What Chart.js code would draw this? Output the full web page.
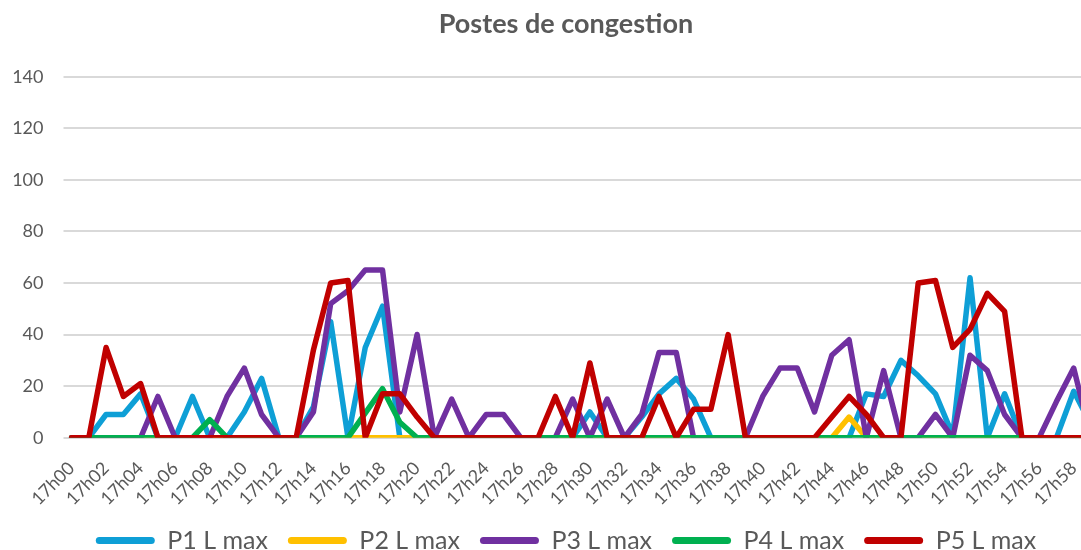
<!DOCTYPE html>
<html>
<head>
<meta charset="utf-8">
<script src="https://cdn.jsdelivr.net/npm/chart.js@4/dist/chart.umd.min.js"></script>
<style>
  html, body { margin: 0; padding: 0; background: #ffffff; }
  #wrap { width: 1081px; height: 550px; overflow: hidden; position: relative; }
  canvas { display: block; }
</style>
</head>
<body>
<div id="wrap"><canvas id="chart" width="1131" height="563"></canvas></div>
<script>
// Categories: one per minute
const minutes = [
  "17h00", "17h01", "17h02", "17h03", "17h04", "17h05", "17h06", "17h07", "17h08", "17h09",
  "17h10", "17h11", "17h12", "17h13", "17h14", "17h15", "17h16", "17h17", "17h18", "17h19",
  "17h20", "17h21", "17h22", "17h23", "17h24", "17h25", "17h26", "17h27", "17h28", "17h29",
  "17h30", "17h31", "17h32", "17h33", "17h34", "17h35", "17h36", "17h37", "17h38", "17h39",
  "17h40", "17h41", "17h42", "17h43", "17h44", "17h45", "17h46", "17h47", "17h48", "17h49",
  "17h50", "17h51", "17h52", "17h53", "17h54", "17h55", "17h56", "17h57", "17h58", "17h59"
];

// Series values
const p1 = [
  0, 0, 9, 9, 17, 0, 0, 16, 0, 0,
  10, 23, 0, 0, 12, 45, 0, 35, 51, 0,
  0, 0, 0, 0, 0, 0, 0, 0, 0, 0,
  10, 0, 0, 8, 17, 23, 15, 0, 0, 0,
  0, 0, 0, 0, 0, 0, 17, 16, 30, 24,
  17, 1, 62, 0, 17, 0, 0, 0, 18, 5
];
const p2 = [
  0, 0, 0, 0, 0, 0, 0, 0, 0, 0,
  0, 0, 0, 0, 0, 0, 0, 0, 0, 0,
  0, 0, 0, 0, 0, 0, 0, 0, 0, 0,
  0, 0, 0, 0, 0, 0, 0, 0, 0, 0,
  0, 0, 0, 0, 0, 8, 0, 0, 0, 0,
  0, 0, 0, 0, 0, 0, 0, 0, 0, 0
];
const p3 = [
  0, 0, 0, 0, 0, 16, 0, 0, 0, 16,
  27, 9, 0, 0, 10, 52, 57, 65, 65, 10,
  40, 0, 15, 0, 9, 9, 0, 0, 0, 15,
  0, 15, 0, 9, 33, 33, 0, 0, 0, 0,
  16, 27, 27, 10, 32, 38, 0, 26, 0, 0,
  9, 0, 32, 26, 9, 0, 0, 14, 27, 0
];
const p4 = [
  0, 0, 0, 0, 0, 0, 0, 0, 7, 0,
  0, 0, 0, 0, 0, 0, 0, 9.5, 19, 6,
  0, 0, 0, 0, 0, 0, 0, 0, 0, 0,
  0, 0, 0, 0, 0, 0, 0, 0, 0, 0,
  0, 0, 0, 0, 0, 0, 0, 0, 0, 0,
  0, 0, 0, 0, 0, 0, 0, 0, 0, 0
];
const p5 = [
  0, 0, 35, 16, 21, 0, 0, 0, 0, 0,
  0, 0, 0, 0, 34, 60, 61, 0, 17, 17,
  8, 0, 0, 0, 0, 0, 0, 0, 16, 0,
  29, 0, 0, 0, 16, 0, 11, 11, 40, 0,
  0, 0, 0, 0, 8, 16, 9, 0, 0, 60,
  61, 35, 42, 56, 49, 0, 0, 0, 0, 0
];

const seriesNames = ["P1 L max", "P2 L max", "P3 L max", "P4 L max", "P5 L max"];
const seriesColors = ["#0e9fd6", "#ffc000", "#7030a0", "#00b050", "#c00000"];
const seriesData = [p1, p2, p3, p4, p5];

const textGrey = "#595959";
const fontName = "Lato, 'Open Sans', sans-serif";

// Last series drawn on top, like the spreadsheet
const datasets = seriesData.map((values, i) => ({
  label: seriesNames[i],
  data: values,
  borderColor: seriesColors[i],
  backgroundColor: seriesColors[i],
  borderWidth: 5.5,
  borderJoinStyle: "round",
  borderCapStyle: "round",
  pointRadius: 0,
  pointHoverRadius: 0,
  tension: 0,
  fill: false,
  order: seriesData.length - i,
}));

new Chart(document.getElementById("chart").getContext("2d"), {
  type: "line",
  data: { labels: minutes, datasets: datasets },
  options: {
    responsive: false,
    animation: false,
    events: [],
    layout: { padding: { left: 1, right: 0, top: 0, bottom: 0 } },
    plugins: {
      title: {
        display: true,
        text: "Postes de congestion",
        color: textGrey,
        font: { family: fontName, size: 27, weight: "bold" },
        padding: { top: 8, bottom: 36.3 },
      },
      legend: {
        position: "bottom",
        labels: {
          boxWidth: 59,
          boxHeight: 7,
          padding: 20,
          color: textGrey,
          useBorderRadius: true,
          borderRadius: 3.5,
          font: { family: fontName, size: 25 },
          generateLabels: (chart) =>
            chart.data.datasets.map((ds, i) => ({
              text: ds.label,
              fillStyle: ds.borderColor,
              strokeStyle: ds.borderColor,
              lineWidth: 0,
              borderRadius: 3.5,
              fontColor: textGrey,
              hidden: false,
              datasetIndex: i,
            })),
        },
      },
      tooltip: { enabled: false },
    },
    scales: {
      x: {
        type: "category",
        offset: false,
        grid: { display: false, drawTicks: false },
        border: { display: false },
        ticks: {
          autoSkip: false,
          minRotation: 45,
          maxRotation: 45,
          padding: 20,
          color: textGrey,
          font: { family: fontName, size: 18 },
          callback: (value, index) => (index % 2 === 0 ? minutes[index] : ""),
        },
        afterFit: (axis) => { axis.height = 70.3; },
      },
      y: {
        min: 0,
        max: 140,
        grid: { color: "#d9d9d9", lineWidth: 2, tickLength: 8, drawTicks: true },
        border: { display: false },
        ticks: {
          stepSize: 20,
          padding: 20,
          color: textGrey,
          font: { family: fontName, size: 18 },
        },
        afterFit: (axis) => { axis.width = 70.5; },
      },
      // empty right-hand scale: keeps title and legend centred on the full chart
      side: {
        type: "linear",
        position: "right",
        min: 0,
        max: 1,
        grid: { display: false, drawTicks: false },
        border: { display: false },
        ticks: { display: false },
        afterFit: (axis) => { axis.width = 40; },
      },
    },
  },
});
</script>
</body>
</html>
